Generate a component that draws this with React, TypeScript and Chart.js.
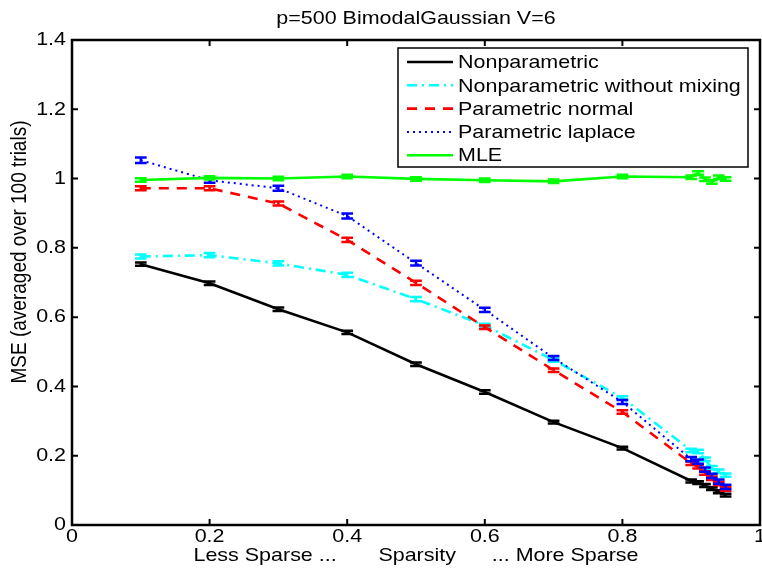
import React, { useEffect, useRef } from "react";
import { Chart, registerables } from "chart.js";

Chart.register(...registerables);

// ---------- data ----------
const sparsity = [0.1, 0.2, 0.3, 0.4, 0.5, 0.6, 0.7, 0.8, 0.9, 0.91, 0.92, 0.93, 0.94, 0.95];

const nonparametric = [0.753, 0.698, 0.623, 0.556, 0.464, 0.384, 0.297, 0.222, 0.127, 0.122, 0.114, 0.105, 0.096, 0.086];
const nonparamNoMixing = [0.775, 0.779, 0.755, 0.722, 0.652, 0.576, 0.476, 0.367, 0.215, 0.212, 0.19, 0.165, 0.155, 0.144];
const parametricNormal = [0.972, 0.972, 0.928, 0.823, 0.699, 0.571, 0.447, 0.326, 0.178, 0.168, 0.15, 0.135, 0.12, 0.104];
const parametricLaplace = [1.053, 0.995, 0.972, 0.892, 0.756, 0.621, 0.482, 0.355, 0.19, 0.183, 0.16, 0.142, 0.125, 0.11];
const mle = [0.996, 1.002, 1.0, 1.006, 0.999, 0.995, 0.992, 1.006, 1.004, 1.016, 0.998, 0.99, 1.004, 0.999];

const errNonparametric = [0.005, 0.005, 0.005, 0.005, 0.005, 0.005, 0.004, 0.004, 0.004, 0.004, 0.004, 0.004, 0.004, 0.004];
const errNonparamNoMixing = [0.006, 0.006, 0.006, 0.006, 0.006, 0.005, 0.005, 0.005, 0.005, 0.005, 0.005, 0.005, 0.005, 0.005];
const errParametricNormal = [0.006, 0.006, 0.006, 0.006, 0.006, 0.005, 0.005, 0.005, 0.005, 0.005, 0.005, 0.005, 0.005, 0.005];
const errParametricLaplace = [0.008, 0.007, 0.007, 0.007, 0.007, 0.006, 0.006, 0.006, 0.006, 0.006, 0.006, 0.006, 0.006, 0.006];
const errMle = [0.005, 0.005, 0.005, 0.005, 0.005, 0.005, 0.005, 0.005, 0.005, 0.005, 0.005, 0.005, 0.005, 0.005];

const seriesNames = [
  "Nonparametric",
  "Nonparametric without mixing",
  "Parametric normal",
  "Parametric laplace",
  "MLE",
];

const xTickValues = [0, 0.2, 0.4, 0.6, 0.8, 1];
const xTickLabels = ["0", "0.2", "0.4", "0.6", "0.8", "1"];
const yTickValues = [0, 0.2, 0.4, 0.6, 0.8, 1, 1.2, 1.4];
const yTickLabels = ["0", "0.2", "0.4", "0.6", "0.8", "1", "1.2", "1.4"];

const titleText = "p=500 BimodalGaussian V=6";
const xTitle = "Less Sparse ...       Sparsity      ... More Sparse";
const yTitle = "MSE (averaged over 100 trials)";

// ---------- styles ----------
const styles = [
  { color: "#000000", width: 2.6, dash: [] as number[] },
  { color: "#00ffff", width: 2.6, dash: [10, 5, 2, 5] },
  { color: "#ff0000", width: 2.6, dash: [10, 8] },
  { color: "#0000ff", width: 2, dash: [2, 4] },
  { color: "#00ff00", width: 2.6, dash: [] as number[] },
];

const seriesValues = [nonparametric, nonparamNoMixing, parametricNormal, parametricLaplace, mle];
const seriesErrors = [errNonparametric, errNonparamNoMixing, errParametricNormal, errParametricLaplace, errMle];

const FAMILY = '"Liberation Sans", Arial, Helvetica, sans-serif';
const FONT = `19px ${FAMILY}`;
const SX = 1.13;

function stretchedText(ctx: CanvasRenderingContext2D, text: string, x: number, y: number, align: CanvasTextAlign) {
  ctx.save();
  ctx.translate(x, y);
  ctx.scale(SX, 1);
  ctx.font = FONT;
  ctx.fillStyle = "#000";
  ctx.textAlign = align;
  ctx.textBaseline = "middle";
  ctx.fillText(text, 0, 0);
  ctx.restore();
}

const errorBarPlugin = {
  id: "errorBars",
  afterDatasetDraw(chart: any, args: any) {
    const i = args.index;
    const ctx: CanvasRenderingContext2D = chart.ctx;
    const xs = chart.scales.x;
    const ys = chart.scales.y;
    const tee = (Math.max(...sparsity) - Math.min(...sparsity)) / 100;
    const vals = seriesValues[i];
    const errs = seriesErrors[i];
    ctx.save();
    ctx.strokeStyle = styles[i].color;
    ctx.lineWidth = 2.5;
    ctx.setLineDash([]);
    vals.forEach((v, j) => {
      const x = xs.getPixelForValue(sparsity[j]);
      const x0 = xs.getPixelForValue(sparsity[j] - tee);
      const x1 = xs.getPixelForValue(sparsity[j] + tee);
      const yl = ys.getPixelForValue(v - errs[j]);
      const yh = ys.getPixelForValue(v + errs[j]);
      ctx.beginPath();
      ctx.moveTo(x, yl);
      ctx.lineTo(x, yh);
      ctx.moveTo(x0, yl);
      ctx.lineTo(x1, yl);
      ctx.moveTo(x0, yh);
      ctx.lineTo(x1, yh);
      ctx.stroke();
    });
    ctx.restore();
  },
};

const framePlugin = {
  id: "matlabFrame",
  afterDraw(chart: any) {
    const ctx: CanvasRenderingContext2D = chart.ctx;
    const { left, right, top, bottom } = chart.chartArea;
    const xs = chart.scales.x;
    const ys = chart.scales.y;
    const tick = 6;
    ctx.save();
    ctx.strokeStyle = "#000";
    ctx.lineWidth = 2;
    ctx.setLineDash([]);
    ctx.beginPath();
    xTickValues.forEach((v) => {
      const x = xs.getPixelForValue(v);
      ctx.moveTo(x, bottom);
      ctx.lineTo(x, bottom - tick);
      ctx.moveTo(x, top);
      ctx.lineTo(x, top + tick);
    });
    yTickValues.forEach((v) => {
      const y = ys.getPixelForValue(v);
      ctx.moveTo(left, y);
      ctx.lineTo(left + tick, y);
      ctx.moveTo(right, y);
      ctx.lineTo(right - tick, y);
    });
    ctx.stroke();
    ctx.lineWidth = 2.5;
    ctx.strokeRect(left, top, right - left, bottom - top);

    // tick labels
    xTickValues.forEach((v, k) => {
      stretchedText(ctx, xTickLabels[k], xs.getPixelForValue(v), bottom + 12, "center");
    });
    yTickValues.forEach((v, k) => {
      stretchedText(ctx, yTickLabels[k], left - 6, ys.getPixelForValue(v), "right");
    });

    // titles
    const cx = (left + right) / 2;
    stretchedText(ctx, titleText, cx, 19, "center");
    stretchedText(ctx, xTitle, cx, bottom + 31, "center");

    ctx.save();
    ctx.translate(20, 252);
    ctx.rotate(-Math.PI / 2);
    ctx.scale(1, 1.12);
    ctx.font = `19px ${FAMILY}`;
    ctx.fillStyle = "#000";
    ctx.textAlign = "center";
    ctx.textBaseline = "middle";
    ctx.fillText(yTitle, 0, 0);
    ctx.restore();

    // legend
    const lw = 350;
    const lh = 119;
    const lx = right - 12 - lw;
    const ly = top + 8;
    ctx.fillStyle = "#fff";
    ctx.fillRect(lx, ly, lw, lh);
    ctx.lineWidth = 1.5;
    ctx.strokeStyle = "#000";
    ctx.strokeRect(lx, ly, lw, lh);
    seriesNames.forEach((name, k) => {
      const ry = ly + 14 + k * 23.3;
      ctx.strokeStyle = styles[k].color;
      ctx.lineWidth = styles[k].width;
      ctx.setLineDash(styles[k].dash);
      ctx.beginPath();
      ctx.moveTo(lx + 9, ry);
      ctx.lineTo(lx + 55, ry);
      ctx.stroke();
      ctx.setLineDash([]);
      stretchedText(ctx, name, lx + 60, ry + 1, "left");
    });
    ctx.restore();
  },
};

export default function App() {
  const ref = useRef<HTMLCanvasElement | null>(null);
  useEffect(() => {
    if (!ref.current) return;
    const chart = new Chart(ref.current, {
      type: "line",
      data: {
        datasets: seriesNames.map((name, i) => ({
          label: name,
          data: sparsity.map((x, j) => ({ x, y: seriesValues[i][j] })),
          borderColor: styles[i].color,
          backgroundColor: styles[i].color,
          borderWidth: styles[i].width,
          borderDash: styles[i].dash,
          pointRadius: 0,
          fill: false,
          tension: 0,
          order: seriesNames.length - 1 - i,
        })),
      },
      options: {
        responsive: false,
        animation: false,
        devicePixelRatio: 1,
        events: [],
        layout: { padding: { left: 72, right: 2, top: 40, bottom: 44 } },
        scales: {
          x: { type: "linear", display: false, min: 0, max: 1 },
          y: { type: "linear", display: false, min: 0, max: 1.4 },
        },
        plugins: {
          legend: { display: false },
          tooltip: { enabled: false },
          title: { display: false },
        },
      },
      plugins: [errorBarPlugin, framePlugin],
    } as any);
    return () => chart.destroy();
  }, []);
  return (
    <div style={{ position: "absolute", left: 0, top: 0, width: 762, height: 569, background: "#fff" }}>
      <canvas ref={ref} width={762} height={569} style={{ display: "block" }} />
    </div>
  );
}
